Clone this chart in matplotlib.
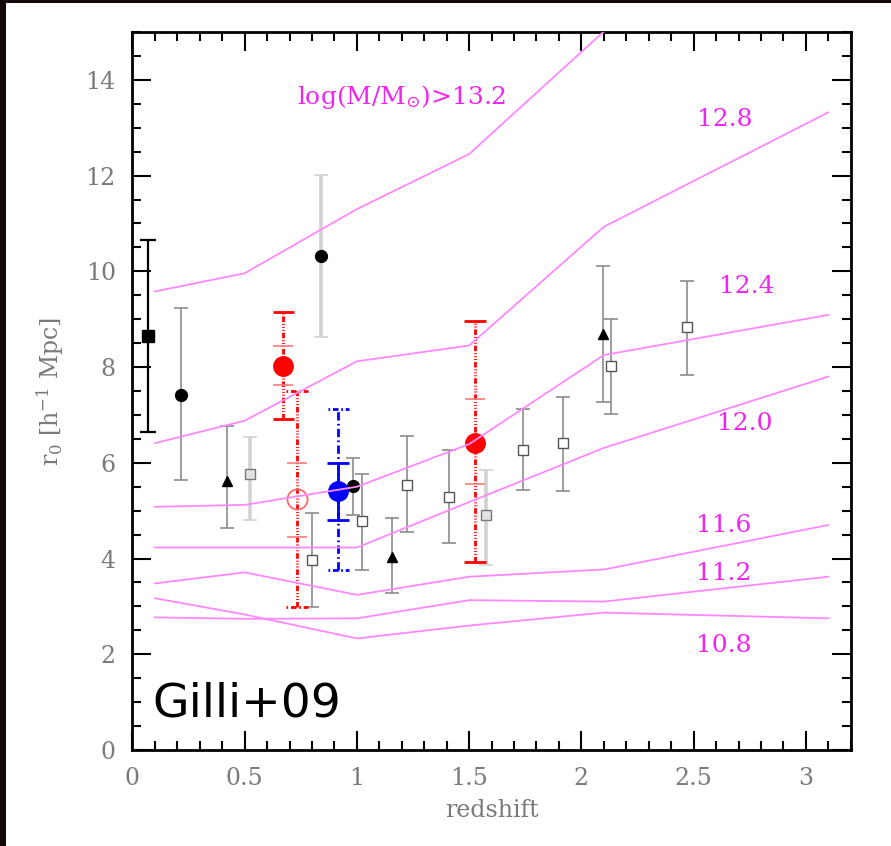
import matplotlib
matplotlib.use('Agg')
import numpy as np
import matplotlib.pyplot as plt
from matplotlib.patches import Rectangle
from matplotlib.ticker import MultipleLocator

# r0 tracks for fixed halo mass
z_track = [0.1, 0.5, 1.0, 1.5, 2.1, 3.1]
r0_132 = [9.58, 9.96, 11.30, 12.45, 15.01, 18.0]
r0_128 = [6.41, 6.88, 8.12, 8.45, 10.93, 13.32]
r0_124 = [5.08, 5.12, 5.50, 6.39, 8.25, 9.09]
r0_120 = [4.23, 4.23, 4.23, 5.18, 6.31, 7.80]
r0_116 = [3.48, 3.71, 3.24, 3.62, 3.77, 4.70]
r0_112 = [2.77, 2.74, 2.75, 3.13, 3.10, 3.62]
r0_108 = [3.17, 2.83, 2.33, 2.60, 2.87, 2.75]

# literature points
sqb_z, sqb_r0, sqb_lo, sqb_hi = [0.068], [8.64], [6.65], [10.66]

circ_z = [0.216, 0.839, 0.981]
circ_r0 = [7.42, 10.32, 5.52]
circ_lo = [5.63, 8.62, 4.91]
circ_hi = [9.23, 12.01, 6.09]
circ_faint = [False, True, False]

tri_z = [0.420, 1.158, 2.098]
tri_r0 = [5.61, 4.03, 8.69]
tri_lo = [4.63, 3.27, 7.28]
tri_hi = [6.76, 4.85, 10.11]

sq_z = [0.524, 0.799, 1.024, 1.222, 1.412, 1.575, 1.739, 1.920, 2.131, 2.470]
sq_r0 = [5.77, 3.97, 4.78, 5.54, 5.29, 4.91, 6.27, 6.41, 8.02, 8.84]
sq_lo = [4.81, 2.99, 3.76, 4.55, 4.32, 3.87, 5.43, 5.41, 7.01, 7.84]
sq_hi = [6.53, 4.96, 5.76, 6.55, 6.27, 5.85, 7.12, 7.38, 9.00, 9.80]
sq_faint = [True, False, False, False, False, True, False, False, False, False]

# red: this work
red_z = [0.672, 0.732, 1.526]
red_r0 = [8.02, 5.24, 6.42]
red_lo = [6.92, 2.98, 3.92]
red_hi = [9.16, 7.49, 8.96]
red_in_lo = [7.63, 4.44, 5.55]
red_in_hi = [8.43, 6.00, 7.33]
red_filled = [True, False, True]

blue_z, blue_r0 = [0.917], [5.42]
blue_lo, blue_hi = [4.81], [6.00]
blue_out_lo, blue_out_hi = [3.76], [7.12]

x_ticks = [0, 0.5, 1, 1.5, 2, 2.5, 3]
x_ticklabels = ['0', '0.5', '1', '1.5', '2', '2.5', '3']
y_ticks = [0, 2, 4, 6, 8, 10, 12, 14]
y_ticklabels = ['0', '2', '4', '6', '8', '10', '12', '14']

plt.rcParams['font.family'] = ['DejaVu Serif']
plt.rcParams['mathtext.fontset'] = 'dejavuserif'

fig = plt.figure(figsize=(8.91, 8.46), dpi=100)
ax = fig.add_axes([0.1487, 0.1135, 0.8061, 0.8487])

# dark strips at the left and top edge
fig.add_artist(Rectangle((0, 0), 6 / 891, 1, transform=fig.transFigure,
                         color='#140906', lw=0))
fig.add_artist(Rectangle((0, 1 - 3 / 846), 1, 3 / 846, transform=fig.transFigure,
                         color='#140906', lw=0))

def yerr(r0, lo, hi):
    r0, lo, hi = np.array(r0), np.array(lo), np.array(hi)
    return [r0 - lo, hi - r0]

# gray literature error bars
ax.errorbar(sqb_z, sqb_r0, yerr=yerr(sqb_r0, sqb_lo, sqb_hi), fmt='none',
            ecolor='black', elinewidth=1.6, capsize=6, capthick=1.6, zorder=2)
for z, r, lo, hi, faint in zip(circ_z + sq_z, circ_r0 + sq_r0, circ_lo + sq_lo,
                               circ_hi + sq_hi, circ_faint + sq_faint):
    c, w = ('#d2d2d2', 2.6) if faint else ('#8c8c8c', 1.2)
    ax.errorbar([z], [r], yerr=yerr([r], [lo], [hi]), fmt='none', ecolor=c,
                elinewidth=w, capsize=5, capthick=1.2, zorder=2)
ax.errorbar(tri_z, tri_r0, yerr=yerr(tri_r0, tri_lo, tri_hi), fmt='none',
            ecolor='#8c8c8c', elinewidth=1.2, capsize=5, capthick=1.2, zorder=2)

ax.plot(sqb_z, sqb_r0, 's', color='black', ms=8.5, zorder=3)
ax.plot(circ_z, circ_r0, 'o', color='black', ms=8.5, zorder=3)
ax.plot(tri_z, tri_r0, '^', color='black', ms=7, zorder=3)
for z, r, faint in zip(sq_z, sq_r0, sq_faint):
    ax.plot([z], [r], 's', mfc='#e2e2e2' if faint else 'white',
            mec='#777777' if faint else '#555555', ms=7, mew=1, zorder=3)

# red points: total errors dash-dot-dot, statistical errors as crossbars
red_ls = (0, (2.0, 0.7, 0.35, 0.7, 0.35, 0.7, 0.35, 0.7))
cap_ls = (0, (0.6, 1.0, 2.0, 1.0))
hw = 0.048
for z, r, lo, hi, ilo, ihi, filled in zip(red_z, red_r0, red_lo, red_hi,
                                          red_in_lo, red_in_hi, red_filled):
    ax.vlines(z, lo, hi, colors='red', linestyles=[red_ls], lw=2, zorder=4)
    ax.hlines([lo, hi], z - hw, z + hw, colors='red',
              linestyles='solid' if filled else [cap_ls], lw=2, zorder=4)
    ax.hlines([ilo, ihi], z - 0.044, z + 0.044, colors='#ff7a7a', lw=1.2, zorder=4)
    if filled:
        ax.plot([z], [r], 'o', color='red', ms=14, zorder=5)
    else:
        ax.plot([z], [r], 'o', mfc='none', mec='#ff6a6a', ms=14.5, mew=1.3, zorder=5)

# blue point
blue_ls = (0, (3.0, 1.2, 0.6, 1.2))
ax.vlines(blue_z, blue_out_lo, blue_out_hi, colors='blue', linestyles=[blue_ls],
          lw=2, zorder=4)
ax.hlines(blue_out_lo + blue_out_hi, blue_z[0] - hw, blue_z[0] + hw,
          colors='blue', linestyles=[cap_ls], lw=2, zorder=4)
ax.errorbar(blue_z, blue_r0, yerr=yerr(blue_r0, blue_lo, blue_hi), fmt='o',
            color='blue', ms=14, elinewidth=2, capsize=8, capthick=2, zorder=5)

# halo mass tracks and labels
for r in [r0_132, r0_128, r0_124, r0_120, r0_116, r0_112, r0_108]:
    ax.plot(z_track, r, color='#ff88ff', lw=1.3, zorder=6)

mag = '#f024f0'
fs = 18
ax.text(1.20, 13.65, r'log(M/M$_{\odot}$)>13.2', color=mag, fontsize=fs,
        ha='center', va='center', zorder=7)
ax.text(2.64, 13.18, '12.8', color=mag, fontsize=fs, ha='center', va='center')
ax.text(2.737, 9.69, '12.4', color=mag, fontsize=fs, ha='center', va='center')
ax.text(2.73, 6.83, '12.0', color=mag, fontsize=fs, ha='center', va='center')
ax.text(2.636, 4.70, '11.6', color=mag, fontsize=fs, ha='center', va='center')
ax.text(2.636, 3.69, '11.2', color=mag, fontsize=fs, ha='center', va='center')
ax.text(2.636, 2.19, '10.8', color=mag, fontsize=fs, ha='center', va='center')

ax.text(0.09, 0.70, 'Gilli+09', family='DejaVu Sans', fontsize=34,
        color='black', va='baseline', ha='left', zorder=8)

ax.set_xlim(0, 3.2)
ax.set_ylim(0, 15)
ax.set_xticks(x_ticks)
ax.set_xticklabels(x_ticklabels)
ax.set_yticks(y_ticks)
ax.set_yticklabels(y_ticklabels)
ax.xaxis.set_minor_locator(MultipleLocator(0.1))
ax.yaxis.set_minor_locator(MultipleLocator(0.5))
ax.tick_params(which='both', direction='in', top=True, right=True,
               colors='black', labelcolor='#7a7a7a', labelsize=17, width=1.5)
ax.tick_params(which='major', length=13.5, pad=12)
ax.tick_params(which='minor', length=6.5)
for s in ax.spines.values():
    s.set_linewidth(2)

ax.set_xlabel('redshift', color='#7a7a7a', fontsize=17, labelpad=7)
ax.set_ylabel(r'r$_0$ [h$^{-1}$ Mpc]', color='#7a7a7a', fontsize=17, labelpad=14)

fig.savefig('out.png', dpi=100)
